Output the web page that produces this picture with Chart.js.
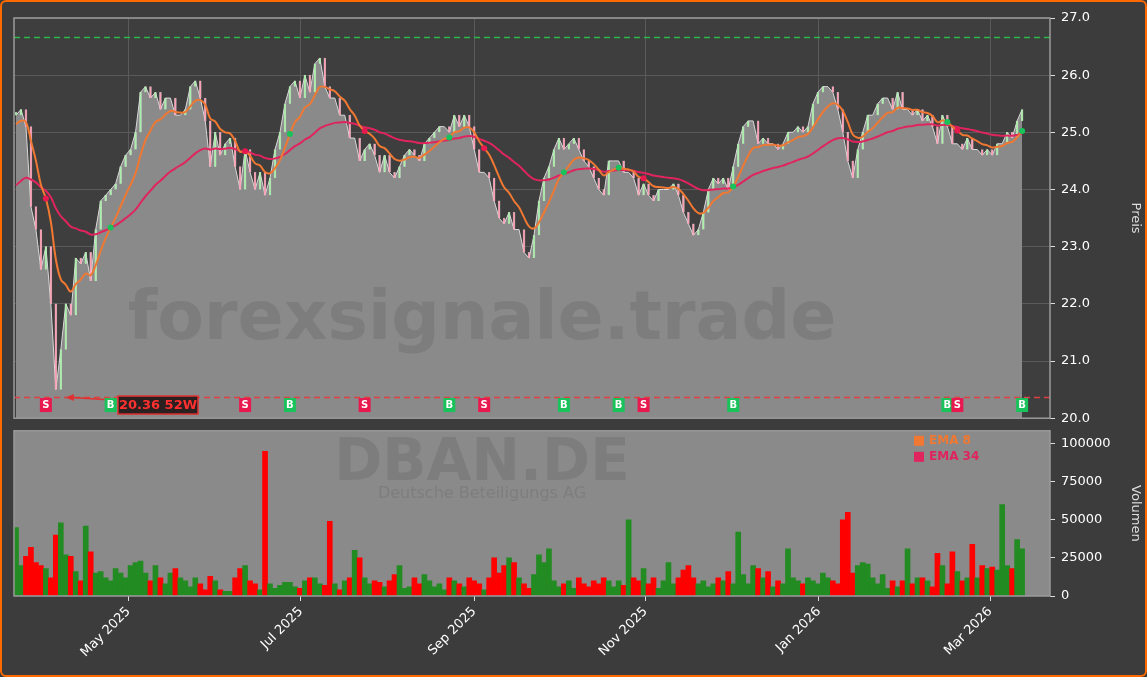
<!DOCTYPE html>
<html><head><meta charset="utf-8">
<script src="https://cdn.jsdelivr.net/npm/chart.js@4.4.1/dist/chart.umd.min.js"></script>
<style>
html,body{margin:0;padding:0;background:#3c3c3c;}
#wrap{position:relative;width:1147px;height:677px;box-sizing:border-box;border:2px solid #ff6a00;border-radius:6px;overflow:hidden;background:#3c3c3c;}
canvas{position:absolute;left:-2px;}
</style></head><body>
<div id="wrap"><canvas id="v" width="1147" height="255" style="top:415px"></canvas><canvas id="p" width="1147" height="432" style="top:-2px"></canvas></div>
<script>
const closes=[25.3,25.4,25.1,23.7,23.3,22.6,23.0,22.0,20.5,21.2,22.0,21.8,22.8,22.7,22.9,22.4,23.3,23.8,23.9,24.0,24.1,24.4,24.6,24.7,25.0,25.7,25.8,25.6,25.7,25.4,25.6,25.6,25.3,25.3,25.4,25.8,25.9,25.6,25.2,24.4,25.0,24.6,24.8,24.9,24.4,24.0,24.7,24.3,24.0,24.3,23.9,24.2,24.7,25.0,25.5,25.8,25.9,25.6,26.0,25.7,26.2,26.3,25.8,25.6,25.6,25.3,25.3,24.9,24.9,24.5,24.7,24.8,24.6,24.3,24.6,24.3,24.2,24.4,24.6,24.7,24.6,24.5,24.8,24.9,25.0,25.1,25.1,25.0,25.3,25.1,25.3,25.1,24.7,24.3,24.3,24.2,23.8,23.5,23.4,23.6,23.3,23.3,22.9,22.8,23.2,23.8,24.2,24.4,24.7,24.9,24.7,24.8,24.9,24.7,24.5,24.4,24.2,24.0,23.9,24.5,24.5,24.5,24.3,24.3,24.2,23.9,24.1,23.9,23.8,24.0,24.0,24.0,24.1,23.9,23.6,23.4,23.2,23.3,23.6,24.0,24.2,24.1,24.2,24.0,24.4,24.8,25.1,25.2,25.2,24.8,24.9,24.8,24.8,24.7,24.8,25.0,25.0,25.1,25.0,25.1,25.5,25.7,25.8,25.8,25.7,25.4,25.0,24.5,24.2,24.7,25.0,25.3,25.3,25.5,25.6,25.6,25.4,25.7,25.4,25.4,25.3,25.4,25.2,25.3,25.1,24.8,25.3,25.1,24.8,24.8,24.7,24.9,24.7,24.7,24.6,24.7,24.6,24.8,24.8,25.0,24.9,25.2,25.4];
const volumesK=[45,20,26,32,22,20,18,12,40,48,27,26,16,10,46,29,15,16,12,10,18,15,12,20,22,23,15,10,20,12,8,15,18,12,10,6,12,8,4,13,10,4,3,3,12,18,20,10,8,4,95,8,5,7,9,9,6,5,10,12,12,8,7,49,8,4,10,12,30,25,12,8,10,9,6,10,14,20,5,6,12,8,14,10,6,8,4,12,10,8,6,12,10,8,4,12,25,15,20,25,22,12,8,5,14,27,22,31,10,6,8,10,5,12,8,6,10,8,12,10,6,10,7,50,12,10,18,8,12,5,10,22,8,12,17,20,12,8,10,6,8,12,10,16,8,42,14,8,20,18,12,16,6,10,8,31,12,10,8,12,10,8,15,12,10,8,50,55,15,20,22,21,12,8,14,5,10,6,10,31,8,12,12,10,6,28,20,8,29,16,10,12,34,12,20,18,19,17,60,20,18,37,31];
const monthLabels=['May 2025','Jul 2025','Sep 2025','Nov 2025','Jan 2026','Mar 2026'];
const monthPos=[22.6,57.2,92,126.4,161.2,195.6];
const signalIdx=[6,19,46,55,70,87,94,110,121,126,144,187,189,202];
const signalType=['S','B','S','B','S','B','S','B','B','S','B','B','S','B'];
const priceTicks=[20,21,22,23,24,25,26,27];
const volTicks=[0,25000,50000,75000,100000];
const low52=20.36, high52=26.66, lowIdx=10;
const ema8Seed=25.1, ema34Seed=24.0;

function ema(arr,n,seed){const k=2/(n+1);let e=seed;return arr.map(v=>(e=v*k+e*(1-k)));}
const e8=ema(closes,8,ema8Seed), e34=ema(closes,34,ema34Seed);
const pts=closes.map((c,i)=>({x:i,y:c}));
const candles=closes.map((c,i)=>({x:i,y:[i?closes[i-1]:c,c+(i?0:0.05)]}));
const candleCol=closes.map((c,i)=>(i&&c<closes[i-1])?'#ff9fb5':'#a8f0a8');
const xMin=-0.4,xMax=207.6;
const xTickFn=s=>{s.ticks=monthPos.map(v=>({value:v}));};
const xLbl=(v)=>{const i=monthPos.indexOf(v);return i>=0?monthLabels[i]:'';};
const F='"DejaVu Sans", sans-serif';

const bgPlugin={id:'bg',beforeDraw(c,a,o){const {ctx,chartArea:ca}=c;ctx.save();ctx.fillStyle=o.color;ctx.fillRect(ca.left,ca.top,ca.right-ca.left,ca.bottom-ca.top);ctx.restore();},
 afterDraw(c){const {ctx,chartArea:ca}=c;ctx.save();ctx.strokeStyle='#9a9a9a';ctx.lineWidth=1.5;ctx.strokeRect(ca.left,ca.top,ca.right-ca.left,ca.bottom-ca.top);ctx.restore();}};

const pricePlugin={id:'pp',
 afterDatasetsDraw(c){const {ctx,chartArea:ca,scales:{x,y}}=c;ctx.save();
  ctx.font='bold 68px '+F;ctx.fillStyle='rgba(60,60,60,0.16)';ctx.textAlign='center';ctx.textBaseline='middle';
  ctx.fillText('forexsignale.trade',(ca.left+ca.right)/2-50,y.getPixelForValue(21.7));
  ctx.setLineDash([6,4]);ctx.lineWidth=1.5;
  ctx.strokeStyle='#e04040';ctx.beginPath();ctx.moveTo(ca.left,y.getPixelForValue(low52));ctx.lineTo(ca.right,y.getPixelForValue(low52));ctx.stroke();
  ctx.strokeStyle='#2eb84a';ctx.beginPath();ctx.moveTo(ca.left,y.getPixelForValue(high52));ctx.lineTo(ca.right,y.getPixelForValue(high52));ctx.stroke();
  ctx.setLineDash([]);
  const lx=x.getPixelForValue(lowIdx),ly=y.getPixelForValue(low52);
  const bx=118,by=y.getPixelForValue(20.23)-9;
  ctx.strokeStyle='#e03030';ctx.fillStyle='#e03030';ctx.lineWidth=1.5;ctx.beginPath();ctx.moveTo(bx-6,by+4);ctx.lineTo(lx+6,ly);ctx.stroke();
  ctx.beginPath();ctx.moveTo(lx,ly);ctx.lineTo(lx+8,ly-3.5);ctx.lineTo(lx+8,ly+3.5);ctx.fill();
  ctx.fillStyle='#2a2020';ctx.fillRect(bx,by,80,18);ctx.strokeRect(bx,by,80,18);
  ctx.fillStyle='#ff3030';ctx.font='bold 13px '+F;ctx.fillText('20.36 52W',bx+40,by+9.5);
  ctx.font='bold 10px '+F;
  signalIdx.forEach((idx,k)=>{const px=x.getPixelForValue(idx),py=y.getPixelForValue(20.23);const b=signalType[k]==='B';
   ctx.fillStyle=b?'#19c25a':'#e8194f';ctx.fillRect(px-6,py-7,12,14);ctx.fillStyle='#fff';ctx.fillText(signalType[k],px,py+0.5);
   const ey=y.getPixelForValue(e8[idx]);ctx.beginPath();ctx.arc(px,ey,3,0,7);ctx.fillStyle=b?'#19c25a':'#e8194f';ctx.fill();});
  ctx.restore();}};

new Chart(document.getElementById('p'),{
 data:{datasets:[
  {type:'line',data:pts,borderColor:'#d8d8d8',borderWidth:1,backgroundColor:'#8a8a8a',fill:'start',pointRadius:0,tension:0,order:4},
  {type:'bar',data:candles,backgroundColor:candleCol,borderColor:'rgba(230,230,230,0.6)',borderWidth:0.5,barThickness:2,order:3},
  {type:'line',data:e34.map((v,i)=>({x:i,y:v})),borderColor:'#e0245e',borderWidth:2,pointRadius:0,tension:0.4,fill:false,order:2},
  {type:'line',data:e8.map((v,i)=>({x:i,y:v})),borderColor:'#f07832',borderWidth:2,pointRadius:0,tension:0.4,fill:false,order:1}
 ]},
 options:{responsive:false,animation:false,layout:{padding:{left:14,top:18,bottom:0,right:0}},
  plugins:{legend:{display:false},tooltip:{enabled:false},bg:{color:'#3e3e3e'}},
  scales:{
   x:{type:'linear',offset:false,min:xMin,max:xMax,afterBuildTicks:xTickFn,ticks:{display:false},grid:{color:'#5a5a5a',drawTicks:false,offset:false},border:{display:false}},
   y:{position:'right',min:20,max:27,afterBuildTicks:s=>{s.ticks=priceTicks.map(v=>({value:v}));},afterFit:s=>{s.width=97;},
    ticks:{color:'#fff',font:{size:13,family:F},callback:v=>v.toFixed(1),padding:6},grid:{color:'#5a5a5a',tickColor:'#ddd',tickLength:5},border:{display:false},
    title:{display:true,text:'Preis',color:'#ddd',font:{size:13,family:F}}}
  }},
 plugins:[bgPlugin,pricePlugin]});

const volPlugin={id:'vp',beforeDatasetsDraw(c){const {ctx,chartArea:ca}=c;ctx.save();ctx.textAlign='center';ctx.textBaseline='middle';
  ctx.fillStyle='rgba(60,60,60,0.16)';ctx.font='bold 58px '+F;ctx.fillText('DBAN.DE',(ca.left+ca.right)/2-50,ca.top+34);
  ctx.font='16px '+F;ctx.fillText('Deutsche Beteiligungs AG',(ca.left+ca.right)/2-50,ca.top+63);ctx.restore();},
 afterDraw(c){const {ctx,chartArea:ca}=c;ctx.save();ctx.font='bold 12px '+F;ctx.textBaseline='middle';
  [['EMA 8','#f07832'],['EMA 34','#e0245e']].forEach((e,k)=>{const yy=ca.top+10+k*16;ctx.fillStyle=e[1];ctx.fillRect(914,yy-5,10,10);ctx.fillText(e[0],929,yy);});ctx.restore();}};

new Chart(document.getElementById('v'),{
 type:'bar',
 data:{datasets:[{data:volumesK.map((v,i)=>({x:i,y:v*1000})),backgroundColor:closes.map((c,i)=>(i&&c<closes[i-1])?'#ff0000':'#228b22'),barThickness:5}]},
 options:{responsive:false,animation:false,layout:{padding:{left:14,top:4,bottom:6,right:0}},
  plugins:{legend:{display:false},tooltip:{enabled:false},bg:{color:'#8a8a8a'}},
  scales:{
   x:{type:'linear',offset:false,min:xMin,max:xMax,afterBuildTicks:xTickFn,afterFit:s=>{s.height=70;},
    ticks:{color:'#fff',font:{size:13,family:F},maxRotation:45,minRotation:45,callback:xLbl,autoSkip:false},grid:{display:true,drawOnChartArea:false,offset:false,tickColor:'#ddd',tickLength:5},border:{display:false}},
   y:{position:'right',min:0,max:108500,afterBuildTicks:s=>{s.ticks=volTicks.map(v=>({value:v}));},afterFit:s=>{s.width=97;},
    ticks:{color:'#fff',font:{size:13,family:F},padding:6,callback:v=>String(v)},grid:{display:true,drawOnChartArea:false,tickColor:'#ddd',tickLength:5},border:{display:false},
    title:{display:true,text:'Volumen',color:'#ddd',font:{size:13,family:F}}}
  }},
 plugins:[bgPlugin,volPlugin]});
</script></body></html>
